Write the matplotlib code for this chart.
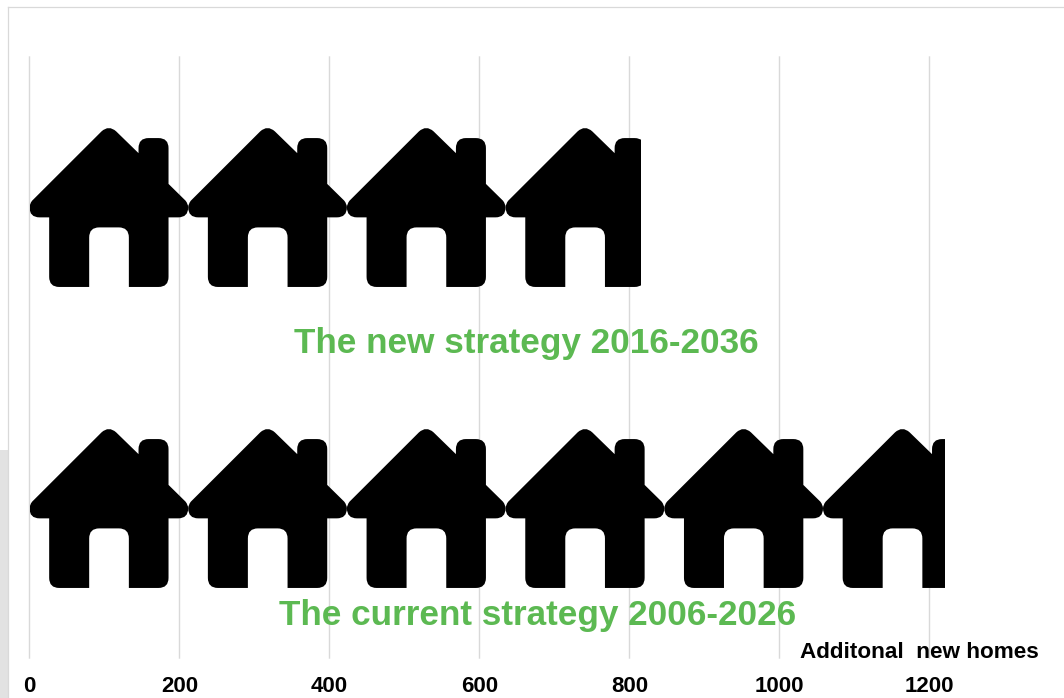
import numpy as np
from matplotlib import pyplot as plt
from matplotlib.path import Path
from matplotlib.patches import PathPatch, Rectangle
from matplotlib.transforms import Affine2D

plt.rcParams["font.family"] = ["Liberation Sans", "DejaVu Sans"]

strategies = ["The current strategy 2006-2026", "The new strategy 2016-2036"]
new_homes = [1220, 815]
x_ticks = [0, 200, 400, 600, 800, 1000, 1200]
x_title = "Additonal  new homes"
homes_per_icon = 211.6

W, H = 1064, 698
GREEN = "#5cb952"
GRID = "#d9d9d9"

# house icon outline, traced in pixels (y down), scaled to a unit box further down
M, L, Q, C = Path.MOVETO, Path.LINETO, Path.CURVE3, Path.CLOSEPOLY
house = [
    (M, 148, 322), (L, 148, 500), (Q, 148, 530), (Q, 178, 530), (L, 268, 530),
    (L, 268, 382), (Q, 268, 352), (Q, 298, 352), (L, 357, 352),
    (Q, 387, 352), (Q, 387, 382), (L, 387, 530), (L, 476, 530),
    (Q, 506, 530), (Q, 506, 500), (L, 506, 322), (L, 535, 322),
    (Q, 565, 322), (Q, 565, 292), (Q, 565, 282), (Q, 557, 272),
    (L, 506, 222), (L, 506, 115), (Q, 506, 85), (Q, 476, 85), (L, 446, 85),
    (Q, 416, 85), (Q, 416, 115), (L, 416, 130), (L, 349, 65),
    (Q, 327, 45), (Q, 305, 65), (L, 97, 272), (Q, 89, 282), (Q, 89, 292),
    (Q, 89, 322), (Q, 119, 322), (L, 148, 322), (C, 148, 322),
]
codes = [h[0] for h in house]
verts = np.array([[(h[1] - 89) / 476, (530 - h[2]) / 475] for h in house])
house_path = Path(verts, codes)

fig = plt.figure(figsize=(W / 100, H / 100), dpi=100)

# bits of the slide behind the chart
fig.patches.append(Rectangle((0, 0), 8 / W, 248 / H, transform=fig.transFigure, color="#e2e2e2", lw=0))
fig.add_artist(plt.Line2D([8 / W, 8 / W], [0, 691 / H], color=GRID, lw=0.9))
fig.add_artist(plt.Line2D([8 / W, 1], [691 / H, 691 / H], color=GRID, lw=0.9))

ax = fig.add_axes([29.5 / W, (H - 658) / H, (W - 29.5) / W, 601 / H])
ax.patch.set_visible(False)
ax.set_xlim(0, (W - 29.5) / 0.75)
ax.set_ylim(-0.4967, 1.5)
for s in ax.spines.values():
    s.set_visible(False)

ax.set_xticks(x_ticks)
ax.set_yticks([])
ax.tick_params(axis="x", length=0, pad=13, labelsize=16, labelcolor="black")
for t in ax.get_xticklabels():
    t.set_fontweight("bold")
ax.grid(axis="x", color=GRID, lw=1, snap=False, clip_on=False)
ax.set_axisbelow(True)

icon_h = 0.528
for i, val in enumerate(new_homes):
    bar = ax.barh(i, val, height=icon_h, color="none", lw=0)[0]
    for k in range(int(np.ceil(val / homes_per_icon))):
        tr = Affine2D().scale(homes_per_icon, icon_h).translate(k * homes_per_icon, i - icon_h / 2)
        p = PathPatch(house_path, transform=tr + ax.transData, fc="black", ec="none", zorder=3)
        ax.add_patch(p)
        p.set_clip_path(bar)

ax.text(662, 0.549, strategies[1], color=GREEN, fontsize=25.3, fontweight="bold", ha="center", va="center")
ax.text(677, -0.355, strategies[0], color=GREEN, fontsize=25.3, fontweight="bold", ha="center", va="center")
ax.text(1345, -0.477, x_title, color="black", fontsize=16.2, fontweight="bold", ha="right", va="center")

fig.savefig("out.png", dpi=100)
